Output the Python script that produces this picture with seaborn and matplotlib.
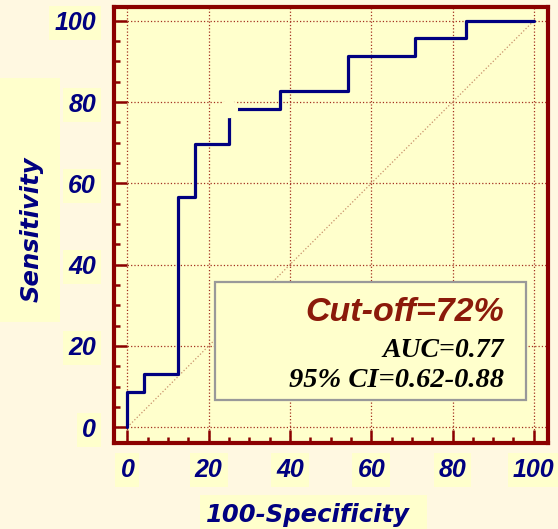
import matplotlib
matplotlib.use("Agg")
import matplotlib.pyplot as plt
import seaborn as sns
import pandas as pd
from matplotlib.patches import Rectangle

# ---- data ----
fpr = [0, 4.17, 12.5, 16.67, 25.0, 37.5, 54.17, 70.83, 83.33, 100]
tpr = [0, 8.70, 13.04, 56.52, 69.57, 78.26, 82.61, 91.30, 95.65, 100]
cutoff_fpr = [25.0]
cutoff_tpr = [78.26]
diag = [0, 100]
xticks = [0, 20, 40, 60, 80, 100]
yticks = [0, 20, 40, 60, 80, 100]
title_text = "Cut-off=72%"
auc_text = "AUC=0.77"
ci_text = "95% CI=0.62-0.88"
xlabel = "100-Specificity"
ylabel = "Sensitivity"

sns.set_theme(style="white")
plt.rcParams['font.family'] = ['Liberation Sans', 'DejaVu Sans']

FIG_BG = "#FFF8E1"
AX_BG = "#FFFFCC"
NAVY = "#000080"
FRAME = "#8B0000"

W, H = 558, 529
fig = plt.figure(figsize=(W / 100, H / 100), dpi=100, facecolor=FIG_BG)
ax = fig.add_axes([114 / W, 1 - 443 / H, 434 / W, 436 / H])
ax.set_facecolor(AX_BG)

df = pd.DataFrame({"fpr": fpr, "tpr": tpr})
sns.lineplot(data=df, x="fpr", y="tpr", sort=False, estimator=None,
             drawstyle="steps-pre", color=NAVY, linewidth=2.3, ax=ax, zorder=4)

ddf = pd.DataFrame({"x": diag, "y": diag})
sns.lineplot(data=ddf, x="x", y="y", sort=False, estimator=None,
             color="#C8906A", linewidth=0.9, linestyle=":", ax=ax, zorder=3)

cdf = pd.DataFrame({"x": cutoff_fpr, "y": cutoff_tpr})
sns.scatterplot(data=cdf, x="x", y="y", s=170, color=AX_BG, edgecolor="none",
                marker="o", ax=ax, zorder=5)

ax.set_xlim(-3.3, 103.5)
ax.set_ylim(-3.9, 103.4)
ax.set_xticks(range(0, 101, 5), minor=True)
ax.set_yticks(range(0, 101, 5), minor=True)

ax.grid(True, which="major", color="#A33020", linestyle=":", linewidth=0.9, zorder=1)
ax.set_axisbelow(True)

for s in ax.spines.values():
    s.set_color(FRAME)
    s.set_linewidth(3)
    s.set_visible(True)

ax.tick_params(which="both", direction="in", color=FRAME, width=1.8,
               top=False, right=False, bottom=True, left=True)
ax.tick_params(which="major", length=9.5)
ax.tick_params(axis="x", which="major", pad=11)
ax.tick_params(axis="y", which="major", pad=13)
ax.tick_params(which="minor", length=4.5)

lbl_kw = dict(fontsize=18, fontweight="bold", fontstyle="italic", color=NAVY,
              family=["Liberation Sans"])
ax.set_xticks(xticks, [str(t) for t in xticks], **lbl_kw)
ax.set_yticks(yticks, [str(t) for t in yticks], **lbl_kw)
for lbl in ax.get_xticklabels() + ax.get_yticklabels():
    lbl.set_bbox(dict(boxstyle="square,pad=0.2", facecolor=AX_BG, edgecolor="none"))

ax.set_xlabel("")
ax.set_ylabel("")

# legend-like box
box = Rectangle((21.5, 6.6), 98.1 - 21.5, 35.7 - 6.6, facecolor=AX_BG,
                edgecolor="#999999", linewidth=1.6, zorder=6)
ax.add_patch(box)
ax.text(92.6, 26.1, title_text, ha="right", va="baseline", fontsize=24.5,
        fontweight="bold", fontstyle="italic", color="#8B1A0A", zorder=7)
ax.text(92.6, 17.3, auc_text, ha="right", va="baseline", fontsize=20,
        fontweight="bold", fontstyle="italic", color="black",
        family=["Liberation Serif", "DejaVu Serif"], zorder=7)
ax.text(92.6, 9.8, ci_text, ha="right", va="baseline", fontsize=20.5,
        fontweight="bold", fontstyle="italic", color="black",
        family=["Liberation Serif", "DejaVu Serif"], zorder=7)

# axis label boxes and texts (figure pixel coords)
fig.patches.append(Rectangle((0, 1 - 322 / H), 60 / W, (322 - 78) / H,
                             transform=fig.transFigure, facecolor=AX_BG,
                             edgecolor="none", zorder=0))
fig.patches.append(Rectangle((200 / W, 0), 227 / W, (529 - 495) / H,
                             transform=fig.transFigure, facecolor=AX_BG,
                             edgecolor="none", zorder=0))
fig.text(32 / W, 1 - 229 / H, ylabel, rotation=90, ha="center", va="center",
         fontsize=17.5, fontweight="bold", fontstyle="italic", color=NAVY,
         family=["DejaVu Sans"])
fig.text(308 / W, 1 - 521.7 / H, xlabel, ha="center", va="baseline",
         fontsize=17.5, fontweight="bold", fontstyle="italic", color=NAVY,
         family=["DejaVu Sans"])

fig.savefig("out.png", dpi=100, facecolor=FIG_BG)
